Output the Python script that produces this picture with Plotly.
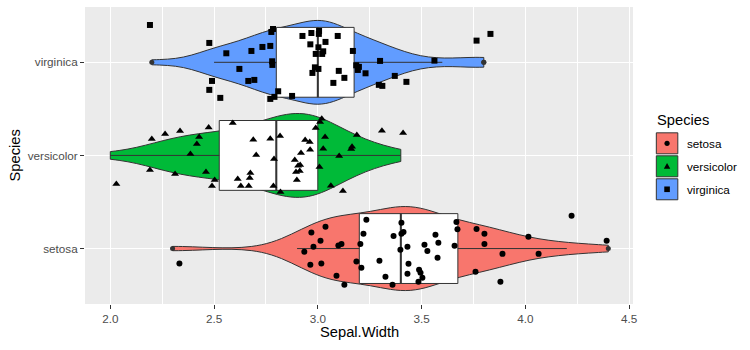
import numpy as np
import plotly.graph_objects as go

# ---- data (iris Sepal.Width) ----
species = ["setosa", "versicolor", "virginica"]
species_pos = [1, 2, 3]
colors = ["#F8766D", "#00BA38", "#619CFF"]
symbols = ["circle", "triangle-up", "square"]

setosa_sw = [3.5,3.0,3.2,3.1,3.6,3.9,3.4,3.4,2.9,3.1,3.7,3.4,3.0,3.0,4.0,4.4,3.9,3.5,3.8,3.8,
             3.4,3.7,3.6,3.3,3.4,3.0,3.4,3.5,3.4,3.2,3.1,3.4,4.1,4.2,3.1,3.2,3.5,3.6,3.0,3.4,
             3.5,2.3,3.2,3.5,3.8,3.0,3.8,3.2,3.7,3.3]
versicolor_sw = [3.2,3.2,3.1,2.3,2.8,2.8,3.3,2.4,2.9,2.7,2.0,3.0,2.2,2.9,2.9,3.1,3.0,2.7,2.2,2.5,
                 3.2,2.8,2.5,2.8,2.9,3.0,2.8,3.0,2.9,2.6,2.4,2.4,2.7,2.7,3.0,3.4,3.1,2.3,3.0,2.5,
                 2.6,3.0,2.6,2.3,2.7,3.0,2.9,2.9,2.5,2.8]
virginica_sw = [3.3,2.7,3.0,2.9,3.0,3.0,2.5,2.9,2.5,3.6,3.2,2.7,3.0,2.5,2.8,3.2,3.0,3.8,2.6,2.2,
                3.2,2.8,2.8,2.7,3.3,3.2,2.8,3.0,2.8,3.0,2.8,3.8,2.8,2.8,2.6,3.0,3.4,3.1,3.0,3.1,
                3.1,3.1,2.7,3.2,3.3,3.0,2.5,3.0,3.4,3.0]

# jittered points (x value, offset from category)
setosa_jx = [2.333,2.969,3.037,3.013,2.979,2.935,2.964,3.017,3.090,3.128,3.099,3.114,3.186,3.210,
             3.205,3.220,3.234,3.297,3.326,3.360,3.365,3.398,3.403,3.413,3.403,3.432,3.437,3.432,
             3.488,3.495,3.504,3.485,3.514,3.528,3.567,3.581,3.577,3.659,3.668,3.673,3.765,3.803,
             3.803,3.760,3.890,3.880,4.015,4.064,4.223,4.392]
setosa_jy = [-0.161,0.172,0.233,0.083,0.018,-0.035,-0.175,-0.161,-0.293,-0.389,0.032,0.050,-0.139,
             -0.207,0.050,0.158,0.308,-0.132,-0.304,-0.389,0.136,-0.014,0.276,0.179,0.158,0.018,
             -0.164,-0.271,-0.229,-0.261,-0.314,-0.357,0.040,-0.025,0.147,0.061,-0.100,0.029,0.286,
             0.207,0.211,0.158,0.050,-0.250,-0.057,-0.357,0.126,-0.057,0.351,0.083]
versicolor_jx = [2.029,2.191,2.200,2.264,2.336,2.312,2.386,2.417,2.428,2.474,2.461,2.503,2.490,
                 2.590,2.689,2.703,2.614,2.675,2.672,2.629,2.667,2.771,2.789,2.786,2.818,2.820,
                 2.939,2.961,2.963,2.919,2.889,2.915,2.895,2.913,2.899,3.019,3.011,2.990,3.035,
                 3.026,3.008,3.063,3.103,3.161,3.165,3.188,3.121,3.309,3.411,2.905]
versicolor_jy = [-0.307,-0.157,0.176,0.230,0.262,-0.200,0.015,0.122,0.197,0.300,-0.178,-0.264,
                 -0.328,0.348,0.168,0.004,-0.253,-0.189,-0.242,-0.328,-0.328,0.179,-0.039,-0.328,
                 0.208,-0.393,0.165,0.144,0.061,0.026,-0.049,-0.103,-0.178,-0.167,-0.264,0.394,
                 0.358,0.294,0.197,0.072,-0.124,-0.325,-0.006,0.069,0.093,0.219,-0.382,0.265,0.240,
                 -0.110]
virginica_jx = [2.191,2.477,2.559,2.680,2.733,2.771,2.784,2.776,2.780,2.781,2.622,2.490,2.477,
                2.530,2.665,2.694,2.809,2.791,2.771,2.876,2.926,2.969,3.006,3.005,3.096,2.964,
                3.037,3.003,2.990,3.026,3.021,3.169,2.986,3.003,2.974,3.101,3.128,3.075,3.185,
                3.198,3.193,3.230,3.300,3.294,3.311,3.371,3.427,3.562,3.765,3.832]
virginica_jy = [0.401,0.208,0.097,0.122,0.165,0.176,0.358,0.326,0.011,-0.028,-0.071,-0.200,-0.296,
                -0.382,-0.200,-0.189,-0.311,-0.371,-0.393,-0.361,0.283,0.315,0.337,0.305,0.283,
                0.193,0.219,0.161,0.090,0.118,0.090,0.122,-0.054,-0.071,-0.114,-0.092,-0.167,
                -0.221,-0.032,-0.049,-0.082,-0.118,0.015,-0.242,-0.253,-0.146,-0.210,0.018,0.233,
                0.305]

x_ticks = [2.0, 2.5, 3.0, 3.5, 4.0, 4.5]
x_ticklabels = ["2.0", "2.5", "3.0", "3.5", "4.0", "4.5"]

values = [setosa_sw, versicolor_sw, virginica_sw]
jit_x = [setosa_jx, versicolor_jx, virginica_jx]
jit_y = [setosa_jy, versicolor_jy, virginica_jy]

FONT = "Arial, Liberation Sans, sans-serif"
OUT = "#333333"


def bw_nrd0(v):
    v = np.asarray(v, float)
    hi = np.std(v, ddof=1)
    q1, q3 = np.percentile(v, [25, 75])
    lo = min(hi, (q3 - q1) / 1.34)
    return 0.9 * lo * len(v) ** (-0.2)


def box_stats(v):
    v = np.asarray(v, float)
    q1, med, q3 = np.percentile(v, [25, 50, 75])  # R type 7
    iqr = q3 - q1
    lo_lim, hi_lim = q1 - 1.5 * iqr, q3 + 1.5 * iqr
    inside = v[(v >= lo_lim) & (v <= hi_lim)]
    outl = v[(v < lo_lim) | (v > hi_lim)]
    return q1, med, q3, inside.min(), inside.max(), outl


fig = go.Figure()

# violins
for v, pos, col in zip(values, species_pos, colors):
    fig.add_trace(go.Violin(
        x=v, y0=pos, orientation="h", side="both", width=0.9,
        scalemode="count", scalegroup="all", spanmode="hard",
        bandwidth=bw_nrd0(v), fillcolor=col, opacity=1,
        line=dict(color=OUT, width=1), points=False,
        box_visible=False, meanline_visible=False,
        hoverinfo="skip", showlegend=False))

# boxes (ggplot-style statistics)
stats = [box_stats(v) for v in values]
for st, pos in zip(stats, species_pos):
    q1, med, q3, lf, uf, _ = st
    fig.add_trace(go.Box(
        y=[pos], q1=[q1], median=[med], q3=[q3], lowerfence=[lf], upperfence=[uf],
        orientation="h", width=0.75, whiskerwidth=0,
        fillcolor="white", line=dict(color=OUT, width=1),
        hoverinfo="skip", showlegend=False))

# thicker median lines (ggplot fatten)
for st, pos in zip(stats, species_pos):
    m = float(st[1])
    fig.add_trace(go.Scatter(
        x=[m, m], y=[pos - 0.375, pos + 0.375], mode="lines",
        line=dict(color=OUT, width=2), hoverinfo="skip", showlegend=False))

# outliers
for st, pos in zip(stats, species_pos):
    outl = st[5]
    fig.add_trace(go.Scatter(
        x=list(outl), y=[pos] * len(outl), mode="markers",
        marker=dict(color=OUT, size=5, line=dict(width=0)),
        hoverinfo="skip", showlegend=False))

# jittered points
sizes = [6, 7, 6]
for jx, jy, pos, sym, sz in zip(jit_x, jit_y, species_pos, symbols, sizes):
    fig.add_trace(go.Scatter(
        x=jx, y=[pos + o for o in jy], mode="markers",
        marker=dict(color="black", symbol=sym, size=sz, line=dict(width=0)),
        hoverinfo="skip", showlegend=False))

# pixel -> paper helpers for panel l=85, r=632.7, t=7.3, b=304.5
L, R, T, B = 85.0, 632.7, 7.3, 304.5


def px(xp):
    return (xp - L) / (R - L)


def py(yp):
    return (B - yp) / (B - T)


shapes = []
annotations = []
key_cy = [143.7, 166.7, 189.7]
kx0, kx1 = 656.0, 677.5
kcx = (kx0 + kx1) / 2
for name, col, cy, i in zip(species, colors, key_cy, range(3)):
    shapes.append(dict(type="rect", xref="paper", yref="paper",
                       x0=px(kx0), x1=px(kx1), y0=py(cy + 10.5), y1=py(cy - 10.5),
                       fillcolor=col, line=dict(color=OUT, width=1), layer="above"))
    r = 2.6
    if i == 0:
        shapes.append(dict(type="circle", xref="paper", yref="paper",
                           x0=px(kcx - r), x1=px(kcx + r), y0=py(cy + r), y1=py(cy - r),
                           fillcolor="black", line=dict(width=0), layer="above"))
    elif i == 1:
        path = "M {},{} L {},{} L {},{} Z".format(
            px(kcx - 3.2), py(cy + 2.4), px(kcx + 3.2), py(cy + 2.4), px(kcx), py(cy - 3.2))
        shapes.append(dict(type="path", xref="paper", yref="paper", path=path,
                           fillcolor="black", line=dict(width=0), layer="above"))
    else:
        shapes.append(dict(type="rect", xref="paper", yref="paper",
                           x0=px(kcx - 2.8), x1=px(kcx + 2.8), y0=py(cy + 2.8), y1=py(cy - 2.8),
                           fillcolor="black", line=dict(width=0), layer="above"))
    annotations.append(dict(text=name, xref="paper", yref="paper", x=px(685), y=py(cy),
                            xanchor="left", yanchor="middle", showarrow=False,
                            font=dict(family=FONT, size=11.7, color="black")))

annotations.append(dict(text="Species", xref="paper", yref="paper", x=px(654.5), y=py(120),
                        xanchor="left", yanchor="middle", showarrow=False,
                        font=dict(family=FONT, size=14.7, color="black")))
annotations.append(dict(text="Sepal.Width", xref="paper", yref="paper", x=0.5, y=py(333),
                        xanchor="center", yanchor="middle", showarrow=False,
                        font=dict(family=FONT, size=14.7, color="black")))
annotations.append(dict(text="Species", xref="paper", yref="paper", x=px(15), y=0.5,
                        xanchor="center", yanchor="middle", showarrow=False, textangle=-90,
                        font=dict(family=FONT, size=14.7, color="black")))

fig.update_layout(
    width=750, height=350,
    margin=dict(l=L, r=750 - R, t=T, b=350 - B, pad=0),
    paper_bgcolor="white", plot_bgcolor="#EBEBEB",
    violinmode="overlay", boxmode="overlay",
    showlegend=False,
    shapes=shapes, annotations=annotations,
    font=dict(family=FONT),
    xaxis=dict(range=[1.878, 4.519], tickvals=x_ticks, ticktext=x_ticklabels,
               ticks="outside", ticklen=4, tickwidth=1, tickcolor=OUT,
               tickfont=dict(family=FONT, size=11.7, color="#4D4D4D"),
               showgrid=True, gridcolor="white", gridwidth=1.1, zeroline=False,
               showline=False,
               minor=dict(dtick=0.25, tick0=2.0, showgrid=True, gridcolor="white",
                          gridwidth=0.55, ticks="")),
    yaxis=dict(type="linear", range=[0.4045, 3.594], tickvals=species_pos, ticktext=species,
               ticks="outside", ticklen=4, tickwidth=1, tickcolor=OUT,
               tickfont=dict(family=FONT, size=11.7, color="#4D4D4D"),
               showgrid=True, gridcolor="white", gridwidth=1.1, zeroline=False,
               showline=False),
)

fig.write_html("out.html")
